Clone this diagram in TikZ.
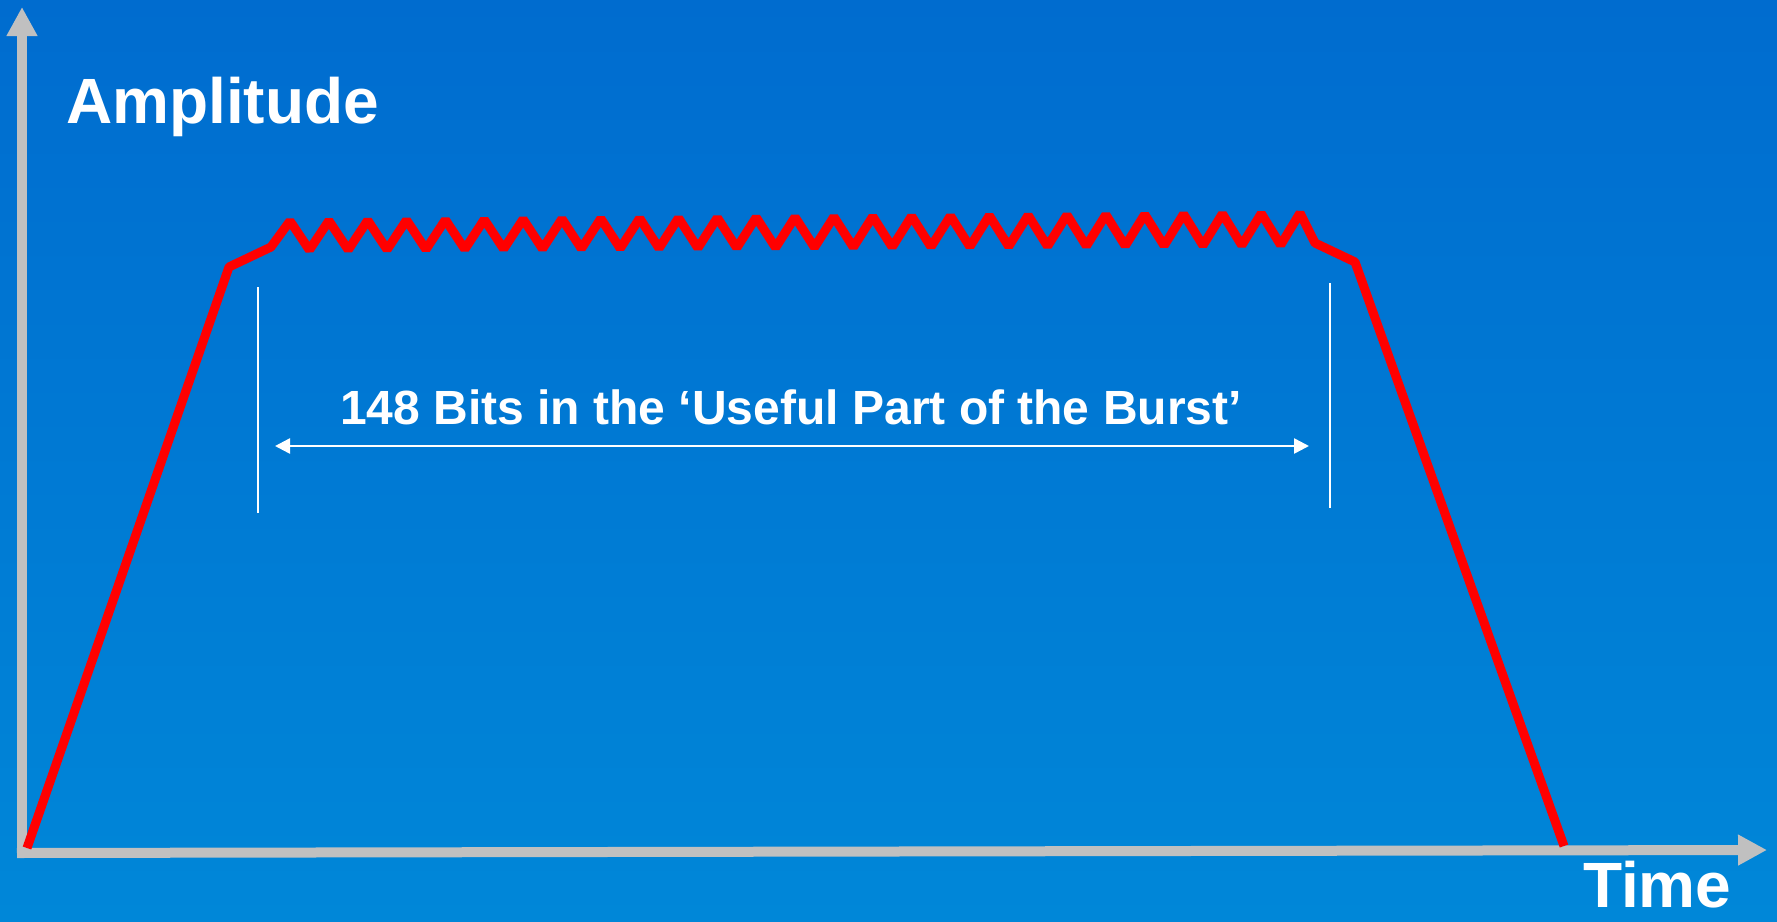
\documentclass[tikz,border=0pt]{standalone}
\usepackage{fontspec}
\setmainfont{Liberation Sans}
\usetikzlibrary{arrows.meta}
\definecolor{bgtop}{RGB}{0,108,207}
\definecolor{bgbot}{RGB}{0,135,216}
\definecolor{axisgray}{RGB}{192,192,192}
\tikzset{
  axisline/.style={draw=axisgray, line width=10pt, -{Triangle[length=29pt,width=29pt]}},
  burst/.style={draw=red, line width=9pt, line join=bevel},
  marker/.style={draw=white, line width=2.5pt},
  span/.style={draw=white, line width=2.5pt, {Triangle[length=15pt,width=15pt]}-{Triangle[length=15pt,width=15pt]}},
  bigtext/.style={text=white, font=\bfseries\fontsize{64}{76}\selectfont, inner sep=0pt},
  midtext/.style={text=white, font=\bfseries\fontsize{48}{58}\selectfont, inner sep=0pt}
}
\begin{document}
\begin{tikzpicture}[x=1pt,y=-1pt]
\useasboundingbox (0,0) rectangle (1777,921);
\fill[top color=bgtop, bottom color=bgbot] (0,0) rectangle (1777,921);
% axes
\coordinate (o) at (22,853);
\coordinate (ytip) at (22,7);
\coordinate (ostart) at (17,853);
\coordinate (xtip) at (1767,850);
\draw[axisline] (o) -- (ytip);
\draw[axisline] (ostart) -- (xtip);
% burst
\coordinate (b0) at (27,848);
\coordinate (b1) at (229,267);
\coordinate (b2) at (271,247);
\coordinate (b3) at (1300,213);
\coordinate (b4) at (1315,243);
\coordinate (b5) at (1355,262);
\coordinate (b6) at (1564,846);
\draw[burst] (b0) -- (b1) -- (b2)
  \foreach \k in {0,...,25} { -- ({290+38.85*\k},{221-0.3*\k}) -- ({309.4+38.85*\k},{250-0.2*\k}) }
  -- (b3) -- (b4) -- (b5) -- (b6);
% markers
\coordinate (l1) at (258,287);
\coordinate (l2) at (258,513);
\coordinate (r1) at (1330,283);
\coordinate (r2) at (1330,508);
\draw[marker] (l1) -- (l2);
\draw[marker] (r1) -- (r2);
\coordinate (al) at (275,446);
\coordinate (ar) at (1309,446);
\draw[span] (al) -- (ar);
% texts
\node[bigtext, anchor=base west] (amp) at (66,123) {Amplitude};
\node[bigtext, anchor=base west] (time) at (1583,907) {Time};
\node[midtext, anchor=base] (lbl) at (791,424) {148 Bits in the ‘Useful Part of the Burst’};
\end{tikzpicture}
\end{document}
